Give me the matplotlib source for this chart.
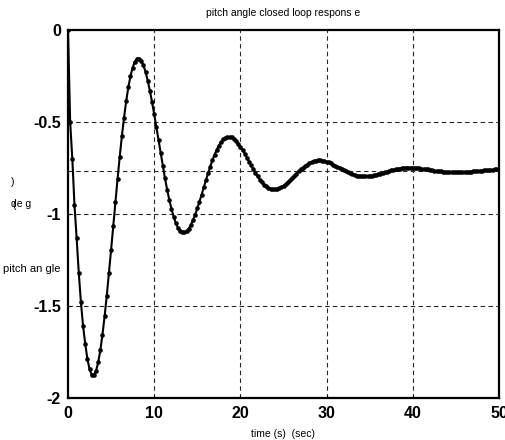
import numpy as np
import matplotlib
matplotlib.use("Agg")
import matplotlib.pyplot as plt

plt.rcParams['font.family'] = ['Liberation Sans', 'DejaVu Sans']
plt.rcParams['axes.unicode_minus'] = False

# pitch angle, one value every 0.25 s from 0 to 50 s
t_step = 0.25
pitch = [
    0.000, -0.500, -0.700, -0.950, -1.130, -1.320, -1.480, -1.610, -1.705, -1.788,
    -1.844, -1.873, -1.876, -1.853, -1.807, -1.741, -1.655, -1.555, -1.443, -1.321,
    -1.194, -1.064, -0.935, -0.809, -0.689, -0.577, -0.476, -0.387, -0.311, -0.250,
    -0.204, -0.172, -0.156, -0.155, -0.167, -0.192, -0.228, -0.275, -0.330, -0.392,
    -0.458, -0.528, -0.600, -0.671, -0.740, -0.806, -0.867, -0.923, -0.972, -1.014,
    -1.048, -1.074, -1.091, -1.100, -1.100, -1.094, -1.080, -1.060, -1.034, -1.004,
    -0.970, -0.933, -0.895, -0.855, -0.816, -0.778, -0.742, -0.708, -0.678, -0.651,
    -0.628, -0.610, -0.595, -0.586, -0.581, -0.581, -0.584, -0.592, -0.603, -0.617,
    -0.634, -0.652, -0.672, -0.693, -0.715, -0.736, -0.757, -0.777, -0.796, -0.813,
    -0.828, -0.840, -0.850, -0.858, -0.863, -0.866, -0.866, -0.864, -0.860, -0.854,
    -0.846, -0.837, -0.827, -0.816, -0.804, -0.792, -0.781, -0.769, -0.758, -0.748,
    -0.739, -0.731, -0.724, -0.718, -0.714, -0.711, -0.709, -0.709, -0.710, -0.713,
    -0.716, -0.720, -0.725, -0.731, -0.737, -0.743, -0.750, -0.756, -0.763, -0.769,
    -0.774, -0.779, -0.784, -0.788, -0.791, -0.793, -0.795, -0.796, -0.796, -0.795,
    -0.794, -0.792, -0.790, -0.787, -0.784, -0.780, -0.777, -0.773, -0.770, -0.766,
    -0.763, -0.760, -0.757, -0.755, -0.753, -0.751, -0.750, -0.749, -0.748, -0.748,
    -0.749, -0.749, -0.750, -0.752, -0.753, -0.755, -0.757, -0.758, -0.760, -0.762,
    -0.764, -0.766, -0.768, -0.769, -0.771, -0.772, -0.773, -0.774, -0.774, -0.774,
    -0.774, -0.774, -0.774, -0.773, -0.772, -0.772, -0.771, -0.770, -0.769, -0.768,
    -0.766, -0.765, -0.764, -0.763, -0.762, -0.761, -0.760, -0.759, -0.758, -0.757,
    -0.757,
]
time = np.arange(len(pitch)) * t_step

x_ticks = [0, 10, 20, 30, 40, 50]
y_ticks = [0, -0.5, -1, -1.5, -2]
y_tick_labels = ['0', '-0.5', '-1', '-1.5', '-2']
final_value = -0.766

fig = plt.figure(figsize=(5.06, 4.40), dpi=100)
ax = fig.add_axes([68 / 506, 1 - 398 / 440, (499 - 68) / 506, (398 - 30) / 440])

grid_kw = dict(color='0.15', linewidth=0.8, dashes=(4, 3), zorder=1)
for xv in x_ticks[1:-1]:
    ax.axvline(xv, **grid_kw)
for yv in y_ticks[1:-1] + [final_value]:
    ax.axhline(yv, **grid_kw)

ax.plot(time, pitch, color='black', linewidth=1.5, marker='o', markersize=3.3,
        markeredgewidth=0, zorder=3)

ax.set_xlim(0, 50)
ax.set_ylim(-2, 0)
ax.set_xticks(x_ticks)
ax.set_xticklabels([str(v) for v in x_ticks], fontsize=11.5, fontweight='bold')
ax.set_yticks(y_ticks)
ax.set_yticklabels(y_tick_labels, fontsize=11.5, fontweight='bold')
ax.tick_params(direction='in', length=2, width=0.8)
ax.tick_params(axis='x', pad=6)
ax.tick_params(axis='y', pad=5)
for s in ax.spines.values():
    s.set_linewidth(1.6)

small = 7.5
fig.text(283 / 506, 1 - 13 / 440, 'pitch angle closed loop respons e',
         ha='center', va='center', fontsize=small)
fig.text(283 / 506, 1 - 434 / 440, 'time (s)  (sec)',
         ha='center', va='center', fontsize=small)
# broken y label, drawn in pieces as in the original
fig.text(11 / 506, 1 - 182 / 440, ')', ha='left', va='center', fontsize=small)
fig.text(11 / 506, 1 - 204 / 440, 'de g', ha='left', va='center', fontsize=small)
fig.text(12 / 506, 1 - 205 / 440, '(', ha='left', va='center', fontsize=small)
fig.text(3 / 506, 1 - 269 / 440, 'pitch an gle', ha='left', va='center', fontsize=8)

fig.savefig('out.png', dpi=100)
